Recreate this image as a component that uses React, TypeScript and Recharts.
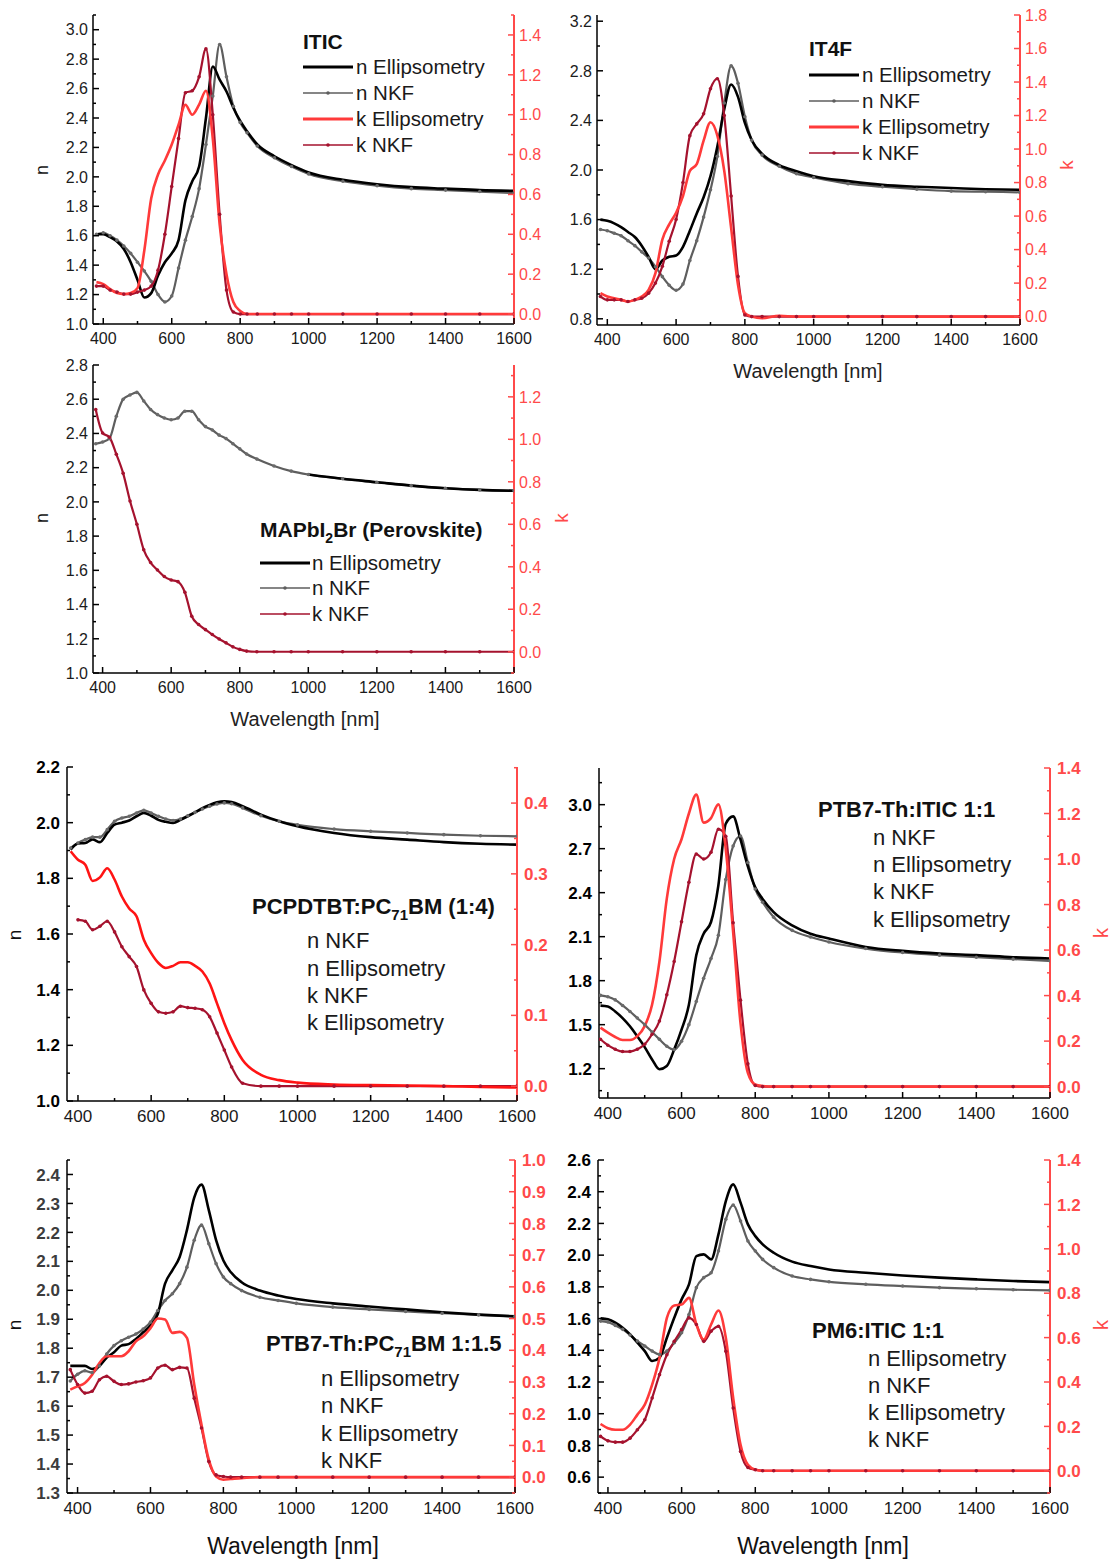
import React from "react"
import { LineChart, Line, XAxis, YAxis } from "recharts"

// wavelength grid shared by every panel (nm)
const WL = [380, 400, 420, 440, 460, 480, 500, 520, 540, 560, 580, 600, 620, 640, 660, 680, 700, 720, 740, 760, 780, 800, 820, 850, 900, 950, 1000, 1100, 1200, 1300, 1400, 1500, 1600]
const X_MAJOR = [400, 600, 800, 1000, 1200, 1400, 1600]

// ITIC
const ITIC_N_ELL = [1.61, 1.61, 1.59, 1.56, 1.51, 1.42, 1.3, 1.18, 1.21, 1.33, 1.42, 1.48, 1.57, 1.84, 1.97, 2.07, 2.4, 2.75, 2.66, 2.58, 2.47, 2.38, 2.31, 2.22, 2.14, 2.08, 2.03, 1.98, 1.95, 1.93, 1.92, 1.91, 1.905]
const ITIC_N_NKF = [1.61, 1.62, 1.6, 1.57, 1.53, 1.48, 1.42, 1.36, 1.29, 1.2, 1.15, 1.19, 1.38, 1.57, 1.73, 1.92, 2.22, 2.55, 2.9, 2.68, 2.48, 2.37, 2.3, 2.21, 2.13, 2.07, 2.02, 1.97, 1.94, 1.92, 1.91, 1.9, 1.89]
const ITIC_K_ELL = [0.16, 0.15, 0.125, 0.105, 0.1, 0.105, 0.13, 0.32, 0.58, 0.7, 0.77, 0.85, 0.95, 1.05, 1.0, 1.05, 1.12, 0.88, 0.45, 0.2, 0.06, 0.015, 0, 0, 0, 0, 0, 0, 0, 0, 0, 0, 0]
const ITIC_K_NKF = [0.14, 0.14, 0.12, 0.11, 0.1, 0.1, 0.11, 0.12, 0.14, 0.22, 0.4, 0.64, 0.88, 1.11, 1.12, 1.19, 1.33, 1.0, 0.5, 0.12, 0.01, 0, 0, 0, 0, 0, 0, 0, 0, 0, 0, 0, 0]

// IT4F
const IT4F_N_ELL = [1.6, 1.59, 1.57, 1.54, 1.5, 1.46, 1.39, 1.3, 1.2, 1.27, 1.3, 1.31, 1.38, 1.51, 1.65, 1.78, 1.95, 2.19, 2.49, 2.69, 2.59, 2.38, 2.24, 2.13, 2.04, 1.99, 1.95, 1.91, 1.88, 1.865, 1.855, 1.845, 1.84]
const IT4F_N_NKF = [1.52, 1.51, 1.49, 1.47, 1.43, 1.39, 1.34, 1.29, 1.22, 1.14, 1.07, 1.03, 1.08, 1.27, 1.43, 1.62, 1.84, 2.11, 2.54, 2.84, 2.7, 2.43, 2.24, 2.12, 2.03, 1.97, 1.94, 1.89, 1.865, 1.845, 1.83, 1.825, 1.82]
const IT4F_K_ELL = [0.14, 0.12, 0.11, 0.1, 0.09, 0.1, 0.12, 0.16, 0.26, 0.46, 0.55, 0.62, 0.72, 0.87, 0.91, 1.05, 1.16, 1.08, 0.87, 0.53, 0.19, 0.02, 0, -0.01, 0.005, 0, 0, 0, 0, 0, 0, 0, 0]
const IT4F_K_NKF = [0.12, 0.1, 0.1, 0.1, 0.09, 0.1, 0.11, 0.14, 0.2, 0.3, 0.45, 0.58, 0.8, 1.08, 1.15, 1.21, 1.36, 1.42, 1.2, 0.72, 0.24, 0.01, 0, 0, 0, 0, 0, 0, 0, 0, 0, 0, 0]

// MAPbI2Br (perovskite)
const MAP_N_ELL = [null, null, null, null, null, null, null, null, null, null, null, null, null, null, null, null, null, null, null, null, null, null, null, null, null, null, 2.16, 2.135, 2.115, 2.095, 2.08, 2.07, 2.065]
const MAP_N_NKF = [2.34, 2.35, 2.37, 2.5, 2.6, 2.625, 2.64, 2.59, 2.54, 2.51, 2.49, 2.48, 2.49, 2.53, 2.53, 2.48, 2.44, 2.42, 2.39, 2.37, 2.34, 2.31, 2.28, 2.25, 2.21, 2.18, 2.16, 2.135, 2.115, 2.095, 2.08, 2.07, 2.065]
const MAP_K_NKF = [1.14, 1.03, 1.01, 0.93, 0.84, 0.71, 0.6, 0.48, 0.42, 0.385, 0.354, 0.338, 0.33, 0.28, 0.167, 0.128, 0.104, 0.081, 0.06, 0.042, 0.023, 0.011, 0.003, 0, 0, 0, 0, 0, 0, 0, 0, 0, 0]

// PCPDTBT:PC71BM (1:4)
const PCP_N_ELL = [1.903, 1.925, 1.927, 1.94, 1.93, 1.963, 1.993, 2.0, 2.008, 2.023, 2.035, 2.025, 2.01, 2.003, 1.999, 2.01, 2.023, 2.037, 2.052, 2.064, 2.073, 2.077, 2.074, 2.059, 2.029, 2.005, 1.987, 1.963, 1.948, 1.939, 1.93, 1.924, 1.921]
const PCP_N_NKF = [1.909, 1.927, 1.939, 1.948, 1.948, 1.975, 2.005, 2.017, 2.023, 2.035, 2.044, 2.035, 2.023, 2.013, 2.008, 2.013, 2.025, 2.037, 2.049, 2.059, 2.067, 2.071, 2.068, 2.053, 2.025, 2.005, 1.992, 1.977, 1.969, 1.963, 1.957, 1.953, 1.951]
const PCP_K_ELL = [0.332, 0.32, 0.313, 0.29, 0.295, 0.308, 0.292, 0.268, 0.251, 0.24, 0.207, 0.188, 0.174, 0.167, 0.17, 0.175, 0.175, 0.17, 0.162, 0.145, 0.117, 0.089, 0.065, 0.037, 0.016, 0.0085, 0.005, 0.0024, 0.0015, 0.001, 0, -0.001, -0.002]
const PCP_K_NKF = [null, 0.235, 0.233, 0.221, 0.226, 0.233, 0.218, 0.197, 0.183, 0.169, 0.136, 0.117, 0.105, 0.103, 0.105, 0.113, 0.111, 0.11, 0.108, 0.098, 0.075, 0.051, 0.027, 0.004, 0, 0, 0, 0, 0, 0, 0, 0, 0]

// PTB7-Th:ITIC 1:1
const PTI_N_ELL = [1.63, 1.624, 1.59, 1.545, 1.489, 1.42, 1.347, 1.263, 1.196, 1.218, 1.33, 1.466, 1.635, 1.974, 2.12, 2.2, 2.45, 2.87, 2.92, 2.763, 2.58, 2.436, 2.357, 2.267, 2.177, 2.12, 2.087, 2.03, 2.003, 1.985, 1.974, 1.96, 1.951]
const PTI_N_NKF = [1.7, 1.69, 1.669, 1.631, 1.59, 1.545, 1.5, 1.45, 1.4, 1.353, 1.33, 1.387, 1.5, 1.658, 1.816, 1.951, 2.11, 2.49, 2.718, 2.786, 2.605, 2.425, 2.335, 2.233, 2.143, 2.098, 2.064, 2.019, 1.992, 1.974, 1.96, 1.947, 1.935]
const PTI_K_ELL = [0.259, 0.237, 0.218, 0.205, 0.205, 0.222, 0.266, 0.36, 0.55, 0.826, 1.0, 1.087, 1.2, 1.283, 1.16, 1.18, 1.24, 1.044, 0.68, 0.28, 0.06, 0.009, 0.003, 0, 0, 0, 0, 0, 0, 0, 0, 0, 0]
const PTI_K_NKF = [0.208, 0.182, 0.164, 0.154, 0.154, 0.164, 0.186, 0.23, 0.288, 0.404, 0.55, 0.724, 0.898, 1.022, 1.0, 1.03, 1.131, 1.1, 0.72, 0.38, 0.1, 0.005, 0, 0, 0, 0, 0, 0, 0, 0, 0, 0, 0]

// PTB7-Th:PC71BM 1:1.5
const PTP_N_ELL = [1.739, 1.739, 1.739, 1.728, 1.739, 1.768, 1.786, 1.809, 1.814, 1.832, 1.855, 1.878, 1.918, 2.023, 2.069, 2.115, 2.208, 2.32, 2.365, 2.277, 2.173, 2.103, 2.063, 2.028, 1.999, 1.982, 1.97, 1.955, 1.944, 1.934, 1.924, 1.916, 1.91]
const PTP_N_NKF = [1.687, 1.71, 1.722, 1.716, 1.739, 1.78, 1.809, 1.826, 1.838, 1.849, 1.866, 1.89, 1.93, 1.965, 1.988, 2.023, 2.08, 2.173, 2.225, 2.161, 2.092, 2.046, 2.023, 1.999, 1.976, 1.965, 1.955, 1.942, 1.934, 1.927, 1.921, 1.915, 1.91]
const PTP_K_ELL = [0.276, 0.286, 0.297, 0.323, 0.36, 0.381, 0.381, 0.381, 0.397, 0.428, 0.444, 0.47, 0.5, 0.497, 0.455, 0.458, 0.439, 0.292, 0.165, 0.055, 0.002, -0.008, -0.006, -0.003, 0, 0, 0, 0, 0, 0, 0, 0, 0]
const PTP_K_NKF = [0.339, 0.292, 0.265, 0.271, 0.307, 0.318, 0.302, 0.292, 0.294, 0.3, 0.304, 0.313, 0.344, 0.353, 0.339, 0.346, 0.344, 0.249, 0.155, 0.049, 0.007, 0.002, 0, 0, 0, 0, 0, 0, 0, 0, 0, 0, 0]

// PM6:ITIC 1:1
const PM6_N_ELL = [1.601, 1.595, 1.574, 1.542, 1.5, 1.448, 1.395, 1.332, 1.353, 1.479, 1.605, 1.721, 1.816, 1.994, 2.005, 1.973, 2.131, 2.341, 2.446, 2.331, 2.194, 2.12, 2.068, 2.015, 1.959, 1.931, 1.91, 1.889, 1.872, 1.858, 1.847, 1.837, 1.83]
const PM6_N_NKF = [1.584, 1.578, 1.557, 1.532, 1.496, 1.458, 1.427, 1.395, 1.374, 1.395, 1.448, 1.511, 1.626, 1.795, 1.858, 1.889, 2.026, 2.226, 2.316, 2.215, 2.089, 2.026, 1.973, 1.921, 1.868, 1.847, 1.832, 1.816, 1.805, 1.795, 1.788, 1.782, 1.778]
const PM6_K_ELL = [0.211, 0.192, 0.185, 0.185, 0.208, 0.253, 0.298, 0.388, 0.508, 0.689, 0.745, 0.749, 0.779, 0.659, 0.591, 0.659, 0.722, 0.599, 0.328, 0.117, 0.027, 0.005, 0, 0, 0, 0, 0, 0, 0, 0, 0, 0, 0]
const PM6_K_NKF = [0.155, 0.135, 0.129, 0.129, 0.147, 0.185, 0.23, 0.328, 0.433, 0.523, 0.583, 0.636, 0.689, 0.659, 0.583, 0.629, 0.651, 0.538, 0.283, 0.087, 0.015, 0.005, 0, 0, 0, 0, 0, 0, 0, 0, 0, 0, 0]

// labelled tick values of the n (left) and k (right) axes
const ITIC_N_TICKS = [1.0, 1.2, 1.4, 1.6, 1.8, 2.0, 2.2, 2.4, 2.6, 2.8, 3.0]
const ITIC_K_TICKS = [0.0, 0.2, 0.4, 0.6, 0.8, 1.0, 1.2, 1.4]
const IT4F_N_TICKS = [0.8, 1.2, 1.6, 2.0, 2.4, 2.8, 3.2]
const IT4F_K_TICKS = [0.0, 0.2, 0.4, 0.6, 0.8, 1.0, 1.2, 1.4, 1.6, 1.8]
const MAP_N_TICKS = [1.0, 1.2, 1.4, 1.6, 1.8, 2.0, 2.2, 2.4, 2.6, 2.8]
const MAP_K_TICKS = [0.0, 0.2, 0.4, 0.6, 0.8, 1.0, 1.2]
const PCP_N_TICKS = [1.0, 1.2, 1.4, 1.6, 1.8, 2.0, 2.2]
const PCP_K_TICKS = [0.0, 0.1, 0.2, 0.3, 0.4]
const PTI_N_TICKS = [1.2, 1.5, 1.8, 2.1, 2.4, 2.7, 3.0]
const PTI_K_TICKS = [0.0, 0.2, 0.4, 0.6, 0.8, 1.0, 1.2, 1.4]
const PTP_N_TICKS = [1.3, 1.4, 1.5, 1.6, 1.7, 1.8, 1.9, 2.0, 2.1, 2.2, 2.3, 2.4]
const PTP_K_TICKS = [0.0, 0.1, 0.2, 0.3, 0.4, 0.5, 0.6, 0.7, 0.8, 0.9, 1.0]
const PM6_N_TICKS = [0.6, 0.8, 1.0, 1.2, 1.4, 1.6, 1.8, 2.0, 2.2, 2.4, 2.6]
const PM6_K_TICKS = [0.0, 0.2, 0.4, 0.6, 0.8, 1.0, 1.2, 1.4]

const FONT = "'Liberation Sans', Arial, Helvetica, sans-serif"
const GRAY = "#5e5e5e"
const RED = "#ff3a3a"
const DARKRED = "#a5122e"
const AXIS_RED = "#ff4a4a"

// add the unlabelled half-step ticks Origin draws between labelled ones
const withMinor = (majors: number[], lo: number, hi: number) => {
  const half = (majors[1] - majors[0]) / 2
  const out: number[] = []
  for (let v = majors[0] - half; v <= hi + 1e-9; v += half) {
    if (v >= lo - 1e-9) out.push(Math.round(v * 1000) / 1000)
  }
  return out
}
const isMajor = (v: number, majors: number[]) => majors.some((m) => Math.abs(m - v) < 1e-6)

const rows = (nEll: (number | null)[] | null, nNkf: (number | null)[], kEll: (number | null)[] | null, kNkf: (number | null)[]) =>
  WL.map((wl, i) => ({
    wl,
    nEll: nEll ? nEll[i] : null,
    nNkf: nNkf[i],
    kEll: kEll ? kEll[i] : null,
    kNkf: kNkf[i],
  }))

type Item = "nEll" | "nNkf" | "kEll" | "kNkf"
const ITEM_TEXT: Record<Item, string> = { nEll: "n Ellipsometry", nNkf: "n NKF", kEll: "k Ellipsometry", kNkf: "k NKF" }

const PANELS = [
  {
    id: "itic", box: { l: 93, r: 514, t: 15, b: 324 }, x: [370, 1600], n: [1.0, 3.1], k: [-0.05, 1.5],
    nTicks: ITIC_N_TICKS, kTicks: ITIC_K_TICKS, data: rows(ITIC_N_ELL, ITIC_N_NKF, ITIC_K_ELL, ITIC_K_NKF),
    bold: false, kColor: RED, leftColor: "#1c1c1c",
    title: <>ITIC</>, legend: { x: 303, titleY: 41, ys: [67, 93, 119, 145], items: ["nEll", "nNkf", "kEll", "kNkf"] as Item[], samples: true, textX: 356 },
  },
  {
    id: "it4f", box: { l: 597, r: 1020, t: 15, b: 325 }, x: [370, 1600], n: [0.75, 3.25], k: [-0.05, 1.8],
    nTicks: IT4F_N_TICKS, kTicks: IT4F_K_TICKS, data: rows(IT4F_N_ELL, IT4F_N_NKF, IT4F_K_ELL, IT4F_K_NKF),
    bold: false, kColor: RED, leftColor: "#1c1c1c",
    title: <>IT4F</>, legend: { x: 809, titleY: 48, ys: [75, 101, 127, 153], items: ["nEll", "nNkf", "kEll", "kNkf"] as Item[], samples: true, textX: 862 },
  },
  {
    id: "map", box: { l: 93, r: 514, t: 365, b: 673 }, x: [372, 1600], n: [1.0, 2.8], k: [-0.1, 1.35],
    nTicks: MAP_N_TICKS, kTicks: MAP_K_TICKS, data: rows(MAP_N_ELL, MAP_N_NKF, null, MAP_K_NKF),
    bold: false, kColor: RED, leftColor: "#1c1c1c",
    title: <>MAPbI<sub style={{ fontSize: 14 }}>2</sub>Br (Perovskite)</>,
    legend: { x: 260, titleY: 532, ys: [563, 588, 614], items: ["nEll", "nNkf", "kNkf"] as Item[], samples: true, textX: 312 },
  },
  {
    id: "pcp", box: { l: 67, r: 517, t: 767, b: 1101 }, x: [370, 1600], n: [1.0, 2.2], k: [-0.021, 0.451],
    nTicks: PCP_N_TICKS, kTicks: PCP_K_TICKS, data: rows(PCP_N_ELL, PCP_N_NKF, PCP_K_ELL, PCP_K_NKF),
    bold: true, kColor: "#ff1414", leftColor: "#000",
    title: <>PCPDTBT:PC<sub style={{ fontSize: 15 }}>71</sub>BM (1:4)</>,
    legend: { x: 252, titleY: 909, ys: [941, 969, 996, 1023], items: ["nNkf", "nEll", "kNkf", "kEll"] as Item[], samples: false, textX: 307 },
  },
  {
    id: "pti", box: { l: 599, r: 1050, t: 768, b: 1098 }, x: [376, 1600], n: [1.0, 3.25], k: [-0.05, 1.4],
    nTicks: PTI_N_TICKS, kTicks: PTI_K_TICKS, data: rows(PTI_N_ELL, PTI_N_NKF, PTI_K_ELL, PTI_K_NKF),
    bold: true, kColor: RED, leftColor: "#000",
    title: <>PTB7-Th:ITIC 1:1</>,
    legend: { x: 818, titleY: 810, ys: [838, 865, 892, 920], items: ["nNkf", "nEll", "kNkf", "kEll"] as Item[], samples: false, textX: 873 },
  },
  {
    id: "ptp", box: { l: 67, r: 515, t: 1160, b: 1493 }, x: [371, 1600], n: [1.3, 2.45], k: [-0.05, 1.0],
    nTicks: PTP_N_TICKS, kTicks: PTP_K_TICKS, data: rows(PTP_N_ELL, PTP_N_NKF, PTP_K_ELL, PTP_K_NKF),
    bold: true, kColor: RED, leftColor: "#3c3c3c",
    title: <>PTB7-Th:PC<sub style={{ fontSize: 15 }}>71</sub>BM 1:1.5</>,
    legend: { x: 266, titleY: 1346, ys: [1379, 1406, 1434, 1461], items: ["nEll", "nNkf", "kEll", "kNkf"] as Item[], samples: false, textX: 321 },
  },
  {
    id: "pm6", box: { l: 598, r: 1050, t: 1160, b: 1493 }, x: [373, 1600], n: [0.5, 2.6], k: [-0.1, 1.4],
    nTicks: PM6_N_TICKS, kTicks: PM6_K_TICKS, data: rows(PM6_N_ELL, PM6_N_NKF, PM6_K_ELL, PM6_K_NKF),
    bold: true, kColor: RED, leftColor: "#000",
    title: <>PM6:ITIC 1:1</>,
    legend: { x: 812, titleY: 1331, ys: [1359, 1386, 1413, 1440], items: ["nEll", "nNkf", "kEll", "kNkf"] as Item[], samples: false, textX: 868 },
  },
]

// rotated / plain axis titles
const AXIS_TITLES = [
  { text: "n", x: 42, y: 170, color: "#111", rot: true, size: 18 },
  { text: "k", x: 1066, y: 165, color: AXIS_RED, rot: true, size: 19 },
  { text: "Wavelength [nm]", x: 808, y: 371, color: "#222", rot: false, size: 20 },
  { text: "n", x: 42, y: 518, color: "#111", rot: true, size: 18 },
  { text: "k", x: 561, y: 518, color: AXIS_RED, rot: true, size: 19 },
  { text: "Wavelength [nm]", x: 305, y: 719, color: "#222", rot: false, size: 20 },
  { text: "n", x: 14, y: 935, color: "#111", rot: true, size: 19 },
  { text: "k", x: 1101, y: 933, color: AXIS_RED, rot: true, size: 20 },
  { text: "n", x: 14, y: 1325, color: "#111", rot: true, size: 19 },
  { text: "Wavelength [nm]", x: 293, y: 1546, color: "#111", rot: false, size: 23 },
  { text: "k", x: 1101, y: 1325, color: AXIS_RED, rot: true, size: 20 },
  { text: "Wavelength [nm]", x: 823, y: 1546, color: "#111", rot: false, size: 23 },
]

function XTick(props: any) {
  const { x, y, payload, top, fontSize } = props
  const major = isMajor(payload.value, X_MAJOR)
  const len = major ? 6 : 3
  return (
    <g>
      <line x1={x} y1={y} x2={x} y2={top ? y + len : y - len} stroke="#000" strokeWidth={1.5} />
      {major && !top && (
        <text x={x} y={y + fontSize + 4} textAnchor="middle" fontSize={fontSize} fontFamily={FONT} fill="#1a1a1a">
          {payload.value}
        </text>
      )}
    </g>
  )
}

function YTick(props: any) {
  const { x, y, payload, side, majors, color, lineColor, bold, fontSize } = props
  const major = isMajor(payload.value, majors)
  const dir = side === "left" ? 1 : -1
  return (
    <g>
      <line x1={x} y1={y} x2={x + dir * (major ? 6 : 3)} y2={y} stroke={lineColor} strokeWidth={1.5} />
      {major && (
        <text
          x={x - dir * (bold ? 7 : 5)}
          y={y}
          dy="0.36em"
          textAnchor={side === "left" ? "end" : "start"}
          fontSize={fontSize}
          fontWeight={bold ? 700 : 400}
          fontFamily={FONT}
          fill={color}
        >
          {payload.value.toFixed(1)}
        </text>
      )}
    </g>
  )
}

function PanelChart({ p }: { p: (typeof PANELS)[number] }) {
  const LW = 60
  const RW = 50
  const XH = 40
  const MT = 14
  const pw = p.box.r - p.box.l
  const ph = p.box.b - p.box.t
  const xTicks = withMinor(X_MAJOR, p.x[0], p.x[1])
  const nTicks = withMinor(p.nTicks, p.n[0], p.n[1])
  const kTicks = withMinor(p.kTicks, p.k[0], p.k[1])
  const fs = p.bold ? 17 : 16
  return (
    <div style={{ position: "absolute", left: p.box.l - LW, top: p.box.t - MT }}>
      <LineChart width={pw + LW + RW} height={ph + XH + MT} data={p.data} margin={{ top: MT, right: 0, bottom: 0, left: 0 }}>
        <XAxis
          xAxisId="b" dataKey="wl" type="number" domain={p.x} ticks={xTicks} interval={0} allowDataOverflow
          height={XH} tickSize={0} tickMargin={0} tickLine={false} axisLine={{ stroke: "#000", strokeWidth: 1.5 }}
          tick={(t: any) => <XTick {...t} fontSize={fs} />}
        />
        <XAxis
          xAxisId="t" orientation="top" dataKey="wl" type="number" domain={p.x} ticks={xTicks} interval={0} allowDataOverflow
          height={0} tickSize={0} tickMargin={0} tickLine={false} axisLine={{ stroke: "#000", strokeWidth: 1.5 }}
          tick={(t: any) => <XTick {...t} top />}
        />
        <YAxis
          yAxisId="n" orientation="left" type="number" domain={p.n} ticks={nTicks} interval={0} allowDataOverflow
          width={LW} tickSize={0} tickMargin={0} tickLine={false} axisLine={{ stroke: "#000", strokeWidth: 1.5 }}
          tick={(t: any) => <YTick {...t} side="left" majors={p.nTicks} color={p.leftColor} lineColor="#000" bold={p.bold} fontSize={fs} />}
        />
        <YAxis
          yAxisId="k" orientation="right" type="number" domain={p.k} ticks={kTicks} interval={0} allowDataOverflow
          width={RW} tickSize={0} tickMargin={0} tickLine={false} axisLine={{ stroke: AXIS_RED, strokeWidth: 2 }}
          tick={(t: any) => <YTick {...t} side="right" majors={p.kTicks} color={AXIS_RED} lineColor={AXIS_RED} bold={p.bold} fontSize={fs} />}
        />
        <Line xAxisId="b" yAxisId="n" dataKey="nNkf" type="monotone" stroke={GRAY} strokeWidth={2.2}
          dot={{ r: 1.8, fill: "#6a6a6a", stroke: "none" }} isAnimationActive={false} />
        <Line xAxisId="b" yAxisId="n" dataKey="nEll" type="monotone" stroke="#000" strokeWidth={2.6}
          dot={false} isAnimationActive={false} />
        <Line xAxisId="b" yAxisId="k" dataKey="kNkf" type="monotone" stroke={DARKRED} strokeWidth={2.2}
          dot={{ r: 1.8, fill: DARKRED, stroke: "none" }} isAnimationActive={false} />
        <Line xAxisId="b" yAxisId="k" dataKey="kEll" type="monotone" stroke={p.kColor} strokeWidth={2.6}
          dot={false} isAnimationActive={false} />
      </LineChart>
    </div>
  )
}

function Sample({ item }: { item: Item }) {
  const thick = item === "nEll" || item === "kEll"
  const color = item === "nEll" ? "#000" : item === "nNkf" ? GRAY : item === "kEll" ? RED : DARKRED
  return (
    <svg width={50} height={10} style={{ display: "block" }}>
      <line x1={0} y1={5} x2={50} y2={5} stroke={color} strokeWidth={thick ? 3 : 1.5} />
      {!thick && <circle cx={25} cy={5} r={1.8} fill={color} />}
    </svg>
  )
}

function PanelLegend({ p }: { p: (typeof PANELS)[number] }) {
  const lg = p.legend
  const size = p.bold ? 22 : 20.5
  return (
    <>
      <div style={{ position: "absolute", left: lg.x, top: lg.titleY, transform: "translateY(-50%)", fontWeight: 700, fontSize: p.bold ? 22 : 21, color: "#111", whiteSpace: "nowrap", lineHeight: 1 }}>
        {p.title}
      </div>
      {lg.items.map((it, i) => (
        <React.Fragment key={it}>
          {lg.samples && (
            <div style={{ position: "absolute", left: lg.x, top: lg.ys[i] - 5 }}>
              <Sample item={it} />
            </div>
          )}
          <div style={{ position: "absolute", left: lg.textX, top: lg.ys[i], transform: "translateY(-50%)", fontSize: size, color: "#1a1a1a", whiteSpace: "nowrap", lineHeight: 1 }}>
            {ITEM_TEXT[it]}
          </div>
        </React.Fragment>
      ))}
    </>
  )
}

export default function App() {
  return (
    <div style={{ position: "absolute", left: 0, top: 0, width: 1113, height: 1559, background: "#fff", fontFamily: FONT, overflow: "hidden" }}>
      {PANELS.map((p) => (
        <PanelChart key={p.id} p={p} />
      ))}
      {PANELS.map((p) => (
        <PanelLegend key={p.id + "-lg"} p={p} />
      ))}
      {AXIS_TITLES.map((a, i) => (
        <div
          key={i}
          style={{
            position: "absolute", left: a.x, top: a.y, transform: `translate(-50%, -50%)${a.rot ? " rotate(-90deg)" : ""}`,
            fontSize: a.size, color: a.color, whiteSpace: "nowrap", lineHeight: 1,
          }}
        >
          {a.text}
        </div>
      ))}
    </div>
  )
}
